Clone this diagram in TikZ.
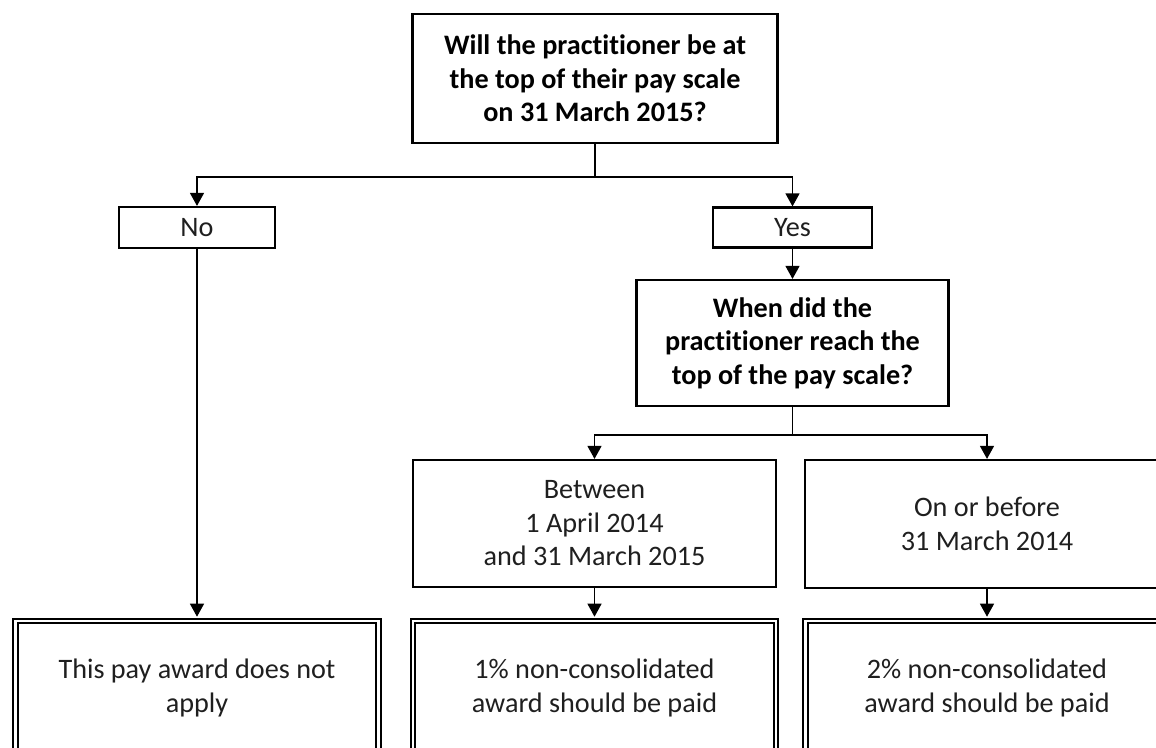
\documentclass[tikz,border=0pt]{standalone}
\usepackage{fontspec}
\setmainfont{Carlito}[Ligatures=NoCommon]
\usetikzlibrary{arrows.meta}
\begin{document}
\begin{tikzpicture}[x=1pt,y=-1pt,
  box/.style={draw, line width=2.2pt, align=center, inner sep=0pt, text=black!88, font=\fontsize{28.2}{33.5}\selectfont},
  qbox/.style={box, text=black, font=\fontsize{28.2}{33.5}\selectfont\bfseries},
  endbox/.style={box, double, line width=2pt, double distance=2.4pt, minimum width=363pt, minimum height=134pt},
  conn/.style={line width=1.3pt, -{Triangle[length=13pt,width=14pt]}}]
\useasboundingbox (0,0) rectangle (1156,747);
\clip (0,0) rectangle (1156,747);
\node[qbox, minimum width=365pt, minimum height=129pt] (q1) at (595,78.5) {Will the practitioner be at\\the top of their pay scale\\on 31 March 2015?};
\node[box, minimum width=156pt, minimum height=41pt] (no) at (197,227.5) {No};
\node[box, minimum width=159pt, minimum height=40pt] (yes) at (792.5,227.5) {Yes};
\node[qbox, minimum width=312pt, minimum height=126pt] (q2) at (792.5,343) {When did the\\practitioner reach the\\top of the pay scale?};
\node[box, minimum width=363pt, minimum height=127pt] (btw) at (594.5,523.5) {Between\\1 April 2014\\and 31 March 2015};
\node[box, minimum width=364pt, minimum height=128pt] (bef) at (987,524) {On or before\\31 March 2014};
\node[endbox] (e1) at (197,688) {This pay award does not\\apply};
\node[endbox] (e2) at (594.5,688) {1\% non-consolidated\\award should be paid};
\node[endbox] (e3) at (987,688) {2\% non-consolidated\\award should be paid};
\draw[conn] (q1.south) -- ++(0,33) -| (no.north);
\draw[conn] (q1.south) -- ++(0,33) -| (yes.north);
\draw[conn] (yes.south) -- (q2.north);
\draw[conn] (q2.south) -- ++(0,28) -| (btw.north);
\draw[conn] (q2.south) -- ++(0,28) -| (bef.north);
\draw[conn, shorten >=3.3pt] (no.south) -- (e1.north);
\draw[conn, shorten >=3.3pt] (btw.south) -- (e2.north);
\draw[conn, shorten >=3.3pt] (bef.south) -- (e3.north);
\end{tikzpicture}
\end{document}
